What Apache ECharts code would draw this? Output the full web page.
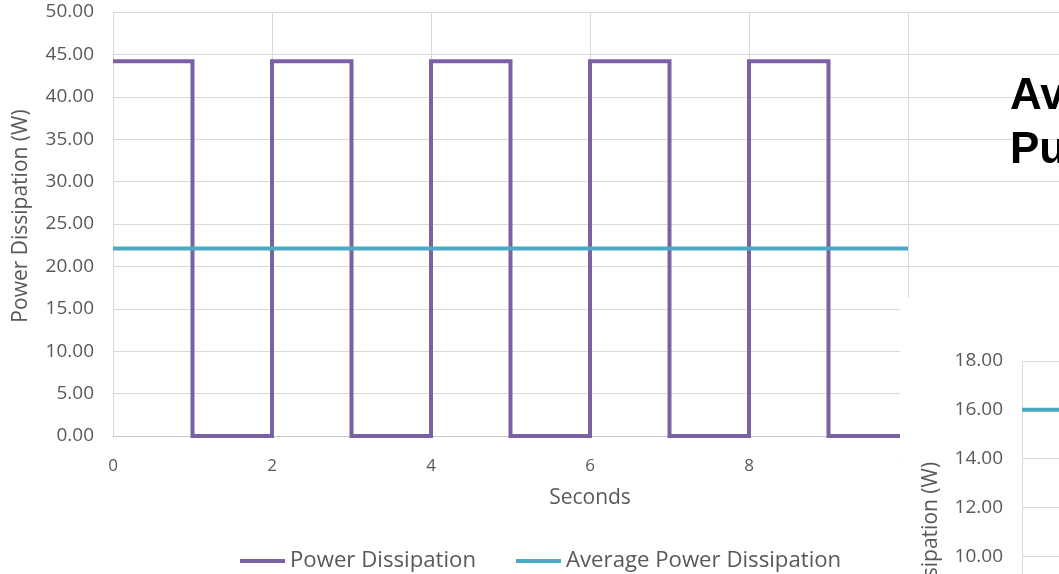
<!DOCTYPE html>
<html>
<head>
<meta charset="utf-8">
<script src="https://cdn.jsdelivr.net/npm/echarts@6/dist/echarts.min.js"></script>
<style>
  html, body { margin: 0; padding: 0; width: 1059px; height: 574px; overflow: hidden; background: #fff; }
  #main { position: absolute; left: 0; top: 0; width: 1059px; height: 574px; }
  #inset { position: absolute; left: 900px; top: 298px; width: 400px; height: 700px; background: #fff; }
</style>
</head>
<body>
<div id="main"></div>
<div id="inset"></div>
<script>
// ---- data ----
const timeSeconds = [0, 1, 2, 3, 4, 5, 6, 7, 8, 9, 10];
const powerDissipation = [44.2, 0, 44.2, 0, 44.2, 0, 44.2, 0, 44.2, 0, 0];
const avgTime = [0, 10];
const avgPowerDissipation = [22.1, 22.1];
const insetTime = [0, 12];
const insetAvgPower = [16.0, 16.0];
const seriesNames = ['Power Dissipation', 'Average Power Dissipation'];
const sideTitle = 'Average\nPulse';

const purple = '#7b61a1';
const teal = '#4aa9c3';
const grid = '#d9d9d9';
const txt = '#595959';
const font = 'Open Sans';

function pairs(xs, ys) { return xs.map((x, i) => [x, ys[i]]); }

const main = echarts.init(document.getElementById('main'), null, { renderer: 'canvas' });
main.setOption({
  animation: false,
  textStyle: { fontFamily: font },
  grid: { left: 113, top: 12, width: 954, height: 424, containLabel: false, outerBoundsMode: 'none' },
  xAxis: {
    type: 'value', min: 0, max: 12, interval: 2,
    name: 'Seconds', nameLocation: 'middle', nameGap: 52,
    nameTextStyle: { color: txt, fontSize: 21, fontFamily: font },
    axisLine: { show: true, lineStyle: { color: '#c8c8c8', width: 1 } },
    axisTick: { show: false },
    axisLabel: { color: txt, fontSize: 17, margin: 22, fontFamily: font },
    splitLine: { show: true, lineStyle: { color: grid, width: 1 } }
  },
  yAxis: {
    type: 'value', min: 0, max: 50, interval: 5,
    name: 'Power Dissipation (W)', nameLocation: 'middle', nameGap: 81, nameRotate: 90,
    nameTextStyle: { color: txt, fontSize: 21, fontFamily: font, padding: [0, 0, 0, 16] },
    axisLine: { show: false },
    axisTick: { show: false },
    axisLabel: { color: txt, fontSize: 19, margin: 19, fontFamily: font, formatter: v => v.toFixed(2) },
    splitLine: { show: true, lineStyle: { color: grid, width: 1 } }
  },
  legend: {
    left: 235, top: 545,
    icon: 'rect', itemWidth: 45, itemHeight: 4, itemGap: 40,
    textStyle: { color: txt, fontSize: 22.2, fontFamily: font },
    data: seriesNames
  },
  graphic: [{
    type: 'text', left: 1010, top: 70, z: 50,
    style: { text: sideTitle, fill: '#000', font: 'bold 44px "Liberation Sans", Arial, sans-serif', lineHeight: 54 }
  }],
  series: [
    {
      name: seriesNames[0], type: 'line', step: 'end', symbol: 'none',
      lineStyle: { color: purple, width: 4, join: 'miter' }, itemStyle: { color: purple },
      data: pairs(timeSeconds, powerDissipation), z: 3
    },
    {
      name: seriesNames[1], type: 'line', symbol: 'none',
      lineStyle: { color: teal, width: 4 }, itemStyle: { color: teal },
      data: pairs(avgTime, avgPowerDissipation), z: 4
    }
  ]
});

const inset = echarts.init(document.getElementById('inset'), null, { renderer: 'canvas' });
inset.setOption({
  animation: false,
  textStyle: { fontFamily: font },
  grid: { left: 122, top: 63, width: 500, height: 439, containLabel: false, outerBoundsMode: 'none' },
  xAxis: {
    type: 'value', min: 0, max: 12, interval: 2,
    axisLine: { show: true, lineStyle: { color: '#c8c8c8' } },
    axisTick: { show: false }, axisLabel: { show: false },
    splitLine: { show: true, lineStyle: { color: grid } }
  },
  yAxis: {
    type: 'value', min: 0, max: 18, interval: 2,
    name: 'Power Dissipation (W)', nameLocation: 'middle', nameGap: 80, nameRotate: 90,
    nameTextStyle: { color: txt, fontSize: 21, fontFamily: font, padding: [0, 0, 0, 24] },
    axisLine: { show: false }, axisTick: { show: false },
    axisLabel: { color: txt, fontSize: 19, margin: 19, fontFamily: font, formatter: v => v.toFixed(2) },
    splitLine: { show: true, lineStyle: { color: grid } }
  },
  series: [{
    name: seriesNames[1], type: 'line', symbol: 'none',
    lineStyle: { color: teal, width: 4 },
    data: pairs(insetTime, insetAvgPower)
  }]
});
</script>
</body>
</html>
